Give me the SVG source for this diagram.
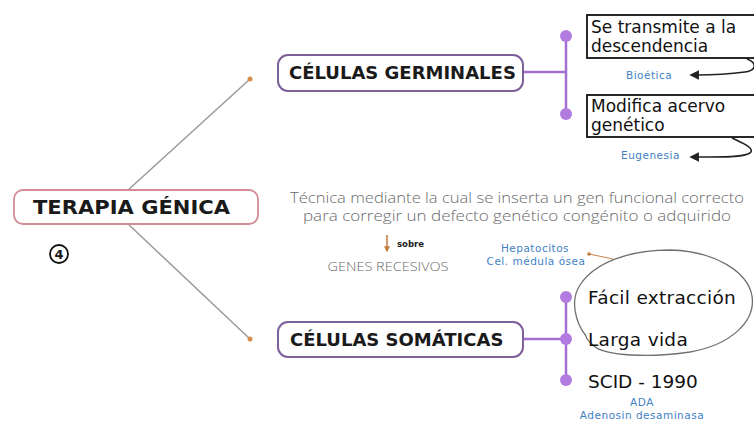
<svg xmlns="http://www.w3.org/2000/svg" width="754" height="427" viewBox="0 0 754 427">
<style>
.head{font-family:"DejaVu Sans",Verdana,sans-serif;font-weight:bold;fill:#1a1a1a}
.item{font-family:"DejaVu Sans",Verdana,sans-serif;fill:#111}
.blue{font-family:"DejaVu Sans",Verdana,sans-serif;fill:#3f82c4;font-size:10.5px;letter-spacing:0.5px}
.gray{font-family:"Open Sans","DejaVu Sans",sans-serif;font-weight:300;fill:#6a6a6a}
.pbox{fill:#fff;stroke:#7d5f99;stroke-width:2}
.purple{stroke:#a46fd0;stroke-width:2.5;fill:none}
.dot{fill:#b27be0}
.gline{stroke:#9a9a9a;stroke-width:1.5}
.odot{fill:#d98c4a}
.blk{fill:#fff;stroke:#111;stroke-width:1.8}
.curve{fill:none;stroke:#222;stroke-width:1.6}
</style>
<defs>
<marker id="ah" viewBox="0 0 10 10" refX="2" refY="5" markerWidth="6" markerHeight="6" orient="auto-start-reverse">
<path d="M0,0 L10,5 L0,10 z" fill="#222"/>
</marker>
<marker id="oh" viewBox="0 0 10 10" refX="8" refY="5" markerWidth="4" markerHeight="4" orient="auto">
<path d="M0,0 L10,5 L0,10 z" fill="#c07a3a"/>
</marker>
</defs>
<rect width="754" height="427" fill="#fff"/>

<g id="connectors">
<line class="gline" x1="127" y1="191" x2="250" y2="79"/>
<circle class="odot" cx="250" cy="79" r="2.5"/>
<line class="gline" x1="127" y1="223" x2="250" y2="339"/>
<circle class="odot" cx="250" cy="339" r="2.5"/>
<line class="purple" x1="523" y1="72" x2="566" y2="72"/>
<line class="purple" x1="566" y1="36" x2="566" y2="114"/>
<circle class="dot" cx="566" cy="36" r="6"/>
<circle class="dot" cx="566" cy="114" r="6"/>
<line class="purple" x1="523" y1="339" x2="566" y2="339"/>
<line class="purple" x1="566" y1="297" x2="566" y2="380"/>
<circle class="dot" cx="566" cy="297" r="6"/>
<circle class="dot" cx="566" cy="339" r="6"/>
<circle class="dot" cx="566" cy="380" r="6"/>
<path class="curve" d="M747,59 C756,62 758,70 745,72 C730,74 712,75 697,75" marker-end="url(#ah)"/>
<path class="curve" d="M732,138 C740,142 756,148 750,153 C742,158 715,157 697,157" marker-end="url(#ah)"/>
<line x1="387" y1="235" x2="387" y2="251" stroke="#c07a3a" stroke-width="1.5" marker-end="url(#oh)"/>
<line x1="589" y1="254" x2="613" y2="259" stroke="#c98a55" stroke-width="1.2"/>
<circle cx="589" cy="254" r="1.8" fill="#c07a3a"/>
<path d="M586,336 C575,322 570,300 580,285 C595,262 630,250 670,250 C715,251 748,272 752,296 C756,322 730,345 690,352 C650,358 605,356 594,346 C588,341 586,338 586,336" fill="none" stroke="#707070" stroke-width="1.3"/>
</g>

<g id="terapia">
<rect x="14" y="190" width="244" height="34" rx="9" fill="#fff" stroke="#d48b96" stroke-width="1.8"/>
<text class="head" x="33" y="214" font-size="20" textLength="197" lengthAdjust="spacingAndGlyphs">TERAPIA GÉNICA</text>
</g>

<g id="num4">
<circle cx="59" cy="254" r="9" fill="none" stroke="#111" stroke-width="1.8"/>
<text class="head" x="59" y="259" font-size="13" text-anchor="middle">4</text>
</g>

<g id="germinales">
<rect class="pbox" x="278" y="55" width="245" height="36" rx="10"/>
<text class="head" x="289" y="79" font-size="18">CÉLULAS GERMINALES</text>
</g>

<g id="somaticas">
<rect class="pbox" x="278" y="322" width="245" height="35" rx="10"/>
<text class="head" x="290" y="346" font-size="18">CÉLULAS SOMÁTICAS</text>
</g>

<g id="transmite">
<rect class="blk" x="587" y="15" width="175" height="43"/>
<text class="item" x="591" y="33" font-size="17">Se transmite a la</text>
<text class="item" x="591" y="52" font-size="17">descendencia</text>
</g>

<g id="bioetica">
<text class="blue" x="626" y="79">Bioética</text>
</g>

<g id="modifica">
<rect class="blk" x="587" y="95" width="175" height="42"/>
<text class="item" x="591" y="112" font-size="17">Modifica acervo</text>
<text class="item" x="591" y="131" font-size="17">genético</text>
</g>

<g id="eugenesia">
<text class="blue" x="621" y="159">Eugenesia</text>
</g>

<g id="definicion">
<text class="gray" x="517" y="203" font-size="14" text-anchor="middle" textLength="454" lengthAdjust="spacingAndGlyphs">Técnica mediante la cual se inserta un gen funcional correcto</text>
<text class="gray" x="517" y="221" font-size="14" text-anchor="middle" textLength="428" lengthAdjust="spacingAndGlyphs">para corregir un defecto genético congénito o adquirido</text>
</g>

<g id="sobre">
<text x="397" y="247" font-family="DejaVu Sans,sans-serif" font-weight="bold" font-size="8.5" fill="#222">sobre</text>
</g>

<g id="genes">
<text class="gray" x="388" y="271" font-size="12" text-anchor="middle" textLength="121" lengthAdjust="spacingAndGlyphs">GENES RECESIVOS</text>
</g>

<g id="hepatocitos">
<text class="blue" x="535" y="252" text-anchor="middle" font-size="10" letter-spacing="0.6">Hepatocitos</text>
<text class="blue" x="536" y="265" text-anchor="middle" font-size="10" letter-spacing="0.3">Cel. médula ósea</text>
</g>

<g id="facil">
<text class="item" x="588" y="304" font-size="18.5" letter-spacing="0.3">Fácil extracción</text>
</g>
<g id="larga">
<text class="item" x="588" y="346" font-size="18.5" letter-spacing="0.3">Larga vida</text>
</g>
<g id="scid">
<text class="item" x="588" y="388" font-size="18.5">SCID - 1990</text>
</g>
<g id="ada">
<text class="blue" x="642" y="406" text-anchor="middle">ADA</text>
<text class="blue" x="642" y="419" text-anchor="middle">Adenosin desaminasa</text>
</g>
</svg>
